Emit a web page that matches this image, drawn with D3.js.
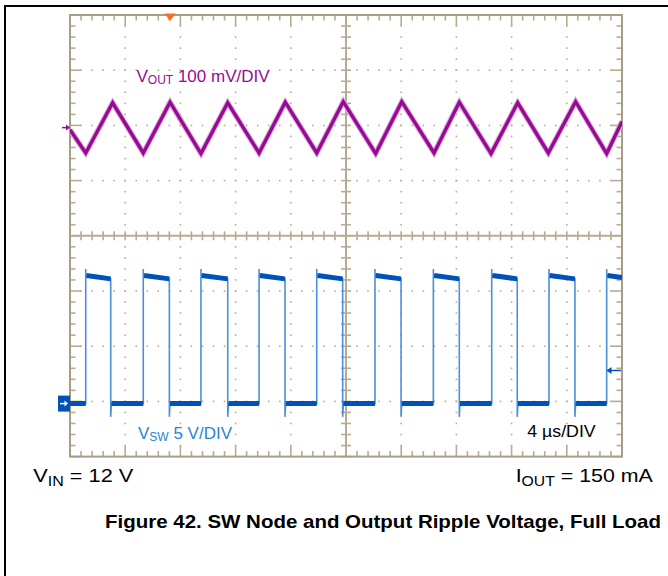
<!DOCTYPE html>
<html>
<head>
<meta charset="utf-8">
<script src="https://cdn.jsdelivr.net/npm/d3@7"></script>
<style>
  body { margin: 0; background: #fff; }
  svg { display: block; }
  text { font-family: "Liberation Sans", Arial, sans-serif; }
</style>
</head>
<body>
<svg id="chart" width="668" height="576"></svg>
<script>
const width = 668;
const height = 576;

// scope settings: 10 x 8 divisions, 4 us/div
const usPerDiv = 4;
const nDivX = 10;
const nDivY = 8;

// VOUT ripple (AC coupled): vertices of the triangle wave, time in us, ripple in mV
const voutT  = [0, 1.14, 3.09, 5.31, 7.25, 9.49, 11.43, 13.70, 15.60, 17.88, 19.80,
                22.15, 24.04, 26.38, 28.21, 30.51, 32.44, 34.66, 36.64, 38.89, 40];
const voutMv = [-4, -46, 45, -46, 46, -47, 45, -46, 46, -46, 47,
                -47, 47, -46, 46, -47, 45, -46, 47, -47, 11];

// SW node: rising / falling edge times (us) and levels (V)
const swRise = [1.14, 5.31, 9.49, 13.70, 17.88, 22.10, 26.33, 30.56, 34.71, 38.89];
const swFall = [2.95, 7.20, 11.43, 15.58, 19.76, 23.99, 28.21, 32.41, 36.59];
const swHighStart = 11.6;
const swHighEnd = 11.3;
const swOvershoot = 12.2;
const swUndershoot = -1.2;
const swLow = 0;

const trigTime = 7.25;   // us
const trigLevel = 3;     // V on SW channel

// plot box
const pLeft = 70, pTop = 15, pRight = 622, pBottom = 456.6;

const svg = d3.select("#chart");

const x = d3.scaleLinear().domain([0, nDivX * usPerDiv]).range([pLeft, pRight]);
const yDiv = d3.scaleLinear().domain([0, nDivY]).range([pTop, pBottom]);
// channel 1 (VOUT, 100 mV/div), ground marker 1.96 div above center
const yOut = d3.scaleLinear().domain([(4 - 1.96) * 100, -(4 + 1.96) * 100]).range([pTop, pBottom]);
// channel 2 (VSW, 5 V/div), ground marker 3.04 div below center
const ySw = d3.scaleLinear().domain([(4 + 3.04) * 5, -(4 - 3.04) * 5]).range([pTop, pBottom]);

const gridCol = "#b6ac92";
const edgeCol = "#a89e84";

// outer black frame
svg.append("path")
    .attr("d", `M5,${height} V6 H${width}`)
    .attr("fill", "none")
    .attr("stroke", "#000")
    .attr("stroke-width", 2);

const grid = svg.append("g");

// dotted graticule along the major lines
const minorX = d3.range(0, nDivX * 5 + 1).map(i => i / 5);
const minorY = d3.range(0, nDivY * 5 + 1).map(i => i / 5);
const isMajor = d => Math.abs(d - Math.round(d)) < 1e-6;
const dots = [];
for (let i = 1; i < nDivX; i++) {
    if (i === 5) continue;
    minorY.forEach(d => dots.push([x(i * usPerDiv), yDiv(d)]));
}
for (let j = 1; j < nDivY; j++) {
    if (j === 4) continue;
    minorX.forEach(d => dots.push([x(d * usPerDiv), yDiv(j)]));
}
grid.selectAll("rect.dot")
    .data(dots)
    .enter()
    .append("rect")
    .attr("class", "dot")
    .attr("x", d => d[0] - 0.8)
    .attr("y", d => d[1] - 0.8)
    .attr("width", 1.6)
    .attr("height", 1.6)
    .attr("fill", gridCol);

// edge ticks (minor short, major long) and center cross ticks
const ticks = [];
minorX.forEach(d => {
    const len = isMajor(d) ? 11 : 5.5;
    const xx = x(d * usPerDiv);
    ticks.push([xx, pTop, xx, pTop + len]);
    ticks.push([xx, pBottom, xx, pBottom - len]);
    ticks.push([xx, yDiv(4) - 4.5, xx, yDiv(4) + 4.5]);
});
minorY.forEach(d => {
    const len = isMajor(d) ? 11 : 5.5;
    const yy = yDiv(d);
    ticks.push([pLeft, yy, pLeft + len, yy]);
    ticks.push([pRight, yy, pRight - len, yy]);
    ticks.push([x(20) - 5, yy, x(20) + 5, yy]);
});
grid.selectAll("line.tick")
    .data(ticks)
    .enter()
    .append("line")
    .attr("class", "tick")
    .attr("x1", d => d[0]).attr("y1", d => d[1])
    .attr("x2", d => d[2]).attr("y2", d => d[3])
    .attr("stroke", gridCol)
    .attr("stroke-width", 1.6);

// center cross
grid.append("line")
    .attr("x1", pLeft).attr("x2", pRight)
    .attr("y1", yDiv(4)).attr("y2", yDiv(4))
    .attr("stroke", gridCol).attr("stroke-width", 2);
grid.append("line")
    .attr("x1", x(20)).attr("x2", x(20))
    .attr("y1", pTop).attr("y2", pBottom)
    .attr("stroke", gridCol).attr("stroke-width", 2);

// plot border
grid.append("rect")
    .attr("x", pLeft).attr("y", pTop)
    .attr("width", pRight - pLeft).attr("height", pBottom - pTop)
    .attr("fill", "none")
    .attr("stroke", edgeCol)
    .attr("stroke-width", 2);

svg.append("clipPath").attr("id", "plotClip")
    .append("rect")
    .attr("x", pLeft).attr("y", pTop)
    .attr("width", pRight - pLeft).attr("height", pBottom - pTop);

const traces = svg.append("g").attr("clip-path", "url(#plotClip)");

// VOUT trace
const voutLine = d3.line()
    .x((d, i) => x(voutT[i]))
    .y(d => yOut(d));
traces.append("path")
    .attr("d", voutLine(voutMv))
    .attr("fill", "none")
    .attr("stroke", "#dcaad9")
    .attr("stroke-width", 5.5);
traces.append("path")
    .attr("d", voutLine(voutMv))
    .attr("fill", "none")
    .attr("stroke", "#970b94")
    .attr("stroke-width", 3.4);

// SW trace: thin edges first
const lastHigh = r => swHighStart - (swHighStart - swHighEnd) * (40 - r) / 1.85;
const swPts = [[0, swLow]];
swRise.forEach((r, i) => {
    swPts.push([r, swLow], [r, swOvershoot], [r, swHighStart]);
    if (i < swFall.length) {
        const f = swFall[i];
        swPts.push([f, swHighEnd], [f, swUndershoot], [f + 0.05, swLow]);
    } else {
        swPts.push([40, lastHigh(r)]);
    }
});
const swLine = d3.line().x(d => x(d[0])).y(d => ySw(d[1]));
traces.append("path")
    .attr("d", swLine(swPts))
    .attr("fill", "none")
    .attr("stroke", "#4a8ee0")
    .attr("stroke-width", 1.6);

// thick plateaus
const highSegs = swRise.map((r, i) => {
    const f = i < swFall.length ? swFall[i] : 40;
    const endV = i < swFall.length ? swHighEnd : lastHigh(r);
    return [[r + 0.05, swHighStart], [f, endV]];
});
const lowStarts = [0].concat(swFall.map(f => f + 0.05));
const lowSegs = lowStarts.map((s, i) => [[s, swLow], [swRise[i], swLow]]);
traces.selectAll("path.plateau")
    .data(highSegs.concat(lowSegs))
    .enter()
    .append("path")
    .attr("class", "plateau")
    .attr("d", d => swLine(d))
    .attr("fill", "none")
    .attr("stroke", "#0052b8")
    .attr("stroke-width", 5);

// channel markers
const y1 = yOut(0);
svg.append("line")
    .attr("x1", 62).attr("x2", pLeft - 1)
    .attr("y1", y1).attr("y2", y1)
    .attr("stroke", "#970b94").attr("stroke-width", 1.5);
svg.append("path")
    .attr("d", `M${pLeft},${y1} l-4,-3 v6 z`)
    .attr("fill", "#970b94");

const y2 = ySw(0);
svg.append("rect")
    .attr("x", 58).attr("y", y2 - 8)
    .attr("width", 12).attr("height", 16)
    .attr("fill", "#0052b8");
svg.append("line")
    .attr("x1", 60).attr("x2", 66)
    .attr("y1", y2).attr("y2", y2)
    .attr("stroke", "#fff").attr("stroke-width", 1.5);
svg.append("path")
    .attr("d", `M68,${y2} l-3.5,-3 v6 z`)
    .attr("fill", "#fff");

// trigger level arrow (right)
const yt = ySw(trigLevel);
svg.append("line")
    .attr("x1", pRight - 1).attr("x2", x(38.95))
    .attr("y1", yt).attr("y2", yt)
    .attr("stroke", "#0052b8").attr("stroke-width", 1.5);
svg.append("path")
    .attr("d", `M${x(38.95) - 1},${yt} l5,-3.5 v7 z`)
    .attr("fill", "#0052b8");

// trigger position (top)
const xt = x(trigTime);
svg.append("path")
    .attr("d", `M${xt - 5.5},${pTop - 1.5} h11 l-5.5,7.5 z`)
    .attr("fill", "#ff6a1c");

// labels
const t1 = svg.append("text")
    .attr("x", 136.5).attr("y", 81.7)
    .attr("fill", "#970b94")
    .attr("font-size", 17);
t1.append("tspan").text("V");
t1.append("tspan").attr("font-size", 12).attr("dy", 2).text("OUT");
t1.append("tspan").attr("dy", -2).text(" 100 mV/DIV");

const t2 = svg.append("text")
    .attr("x", 138).attr("y", 439)
    .attr("fill", "#2a84d4")
    .attr("font-size", 17);
t2.append("tspan").text("V");
t2.append("tspan").attr("font-size", 12).attr("dy", 2).text("SW");
t2.append("tspan").attr("dy", -2).text(" 5 V/DIV");

svg.append("text")
    .attr("x", 527.3).attr("y", 436.7)
    .attr("fill", "#000")
    .attr("font-size", 16.5)
    .attr("textLength", 68.4)
    .attr("lengthAdjust", "spacingAndGlyphs")
    .text("4 \u00b5s/DIV");

const t3 = svg.append("text")
    .attr("x", 33.3).attr("y", 482.3)
    .attr("fill", "#000")
    .attr("font-size", 19)
    .attr("textLength", 100)
    .attr("lengthAdjust", "spacingAndGlyphs");
t3.append("tspan").text("V");
t3.append("tspan").attr("font-size", 14).attr("dy", 3.5).text("IN");
t3.append("tspan").attr("dy", -3.5).text(" = 12 V");

const t4 = svg.append("text")
    .attr("x", 515.7).attr("y", 482.3)
    .attr("fill", "#000")
    .attr("font-size", 19)
    .attr("textLength", 137)
    .attr("lengthAdjust", "spacingAndGlyphs");
t4.append("tspan").text("I");
t4.append("tspan").attr("font-size", 14).attr("dy", 3.5).text("OUT");
t4.append("tspan").attr("dy", -3.5).text(" = 150 mA");

svg.append("text")
    .attr("x", 105).attr("y", 527.7)
    .attr("fill", "#000")
    .attr("font-size", 19)
    .attr("font-weight", "bold")
    .attr("textLength", 556)
    .attr("lengthAdjust", "spacingAndGlyphs")
    .text("Figure 42. SW Node and Output Ripple Voltage, Full Load");
</script>
</body>
</html>
